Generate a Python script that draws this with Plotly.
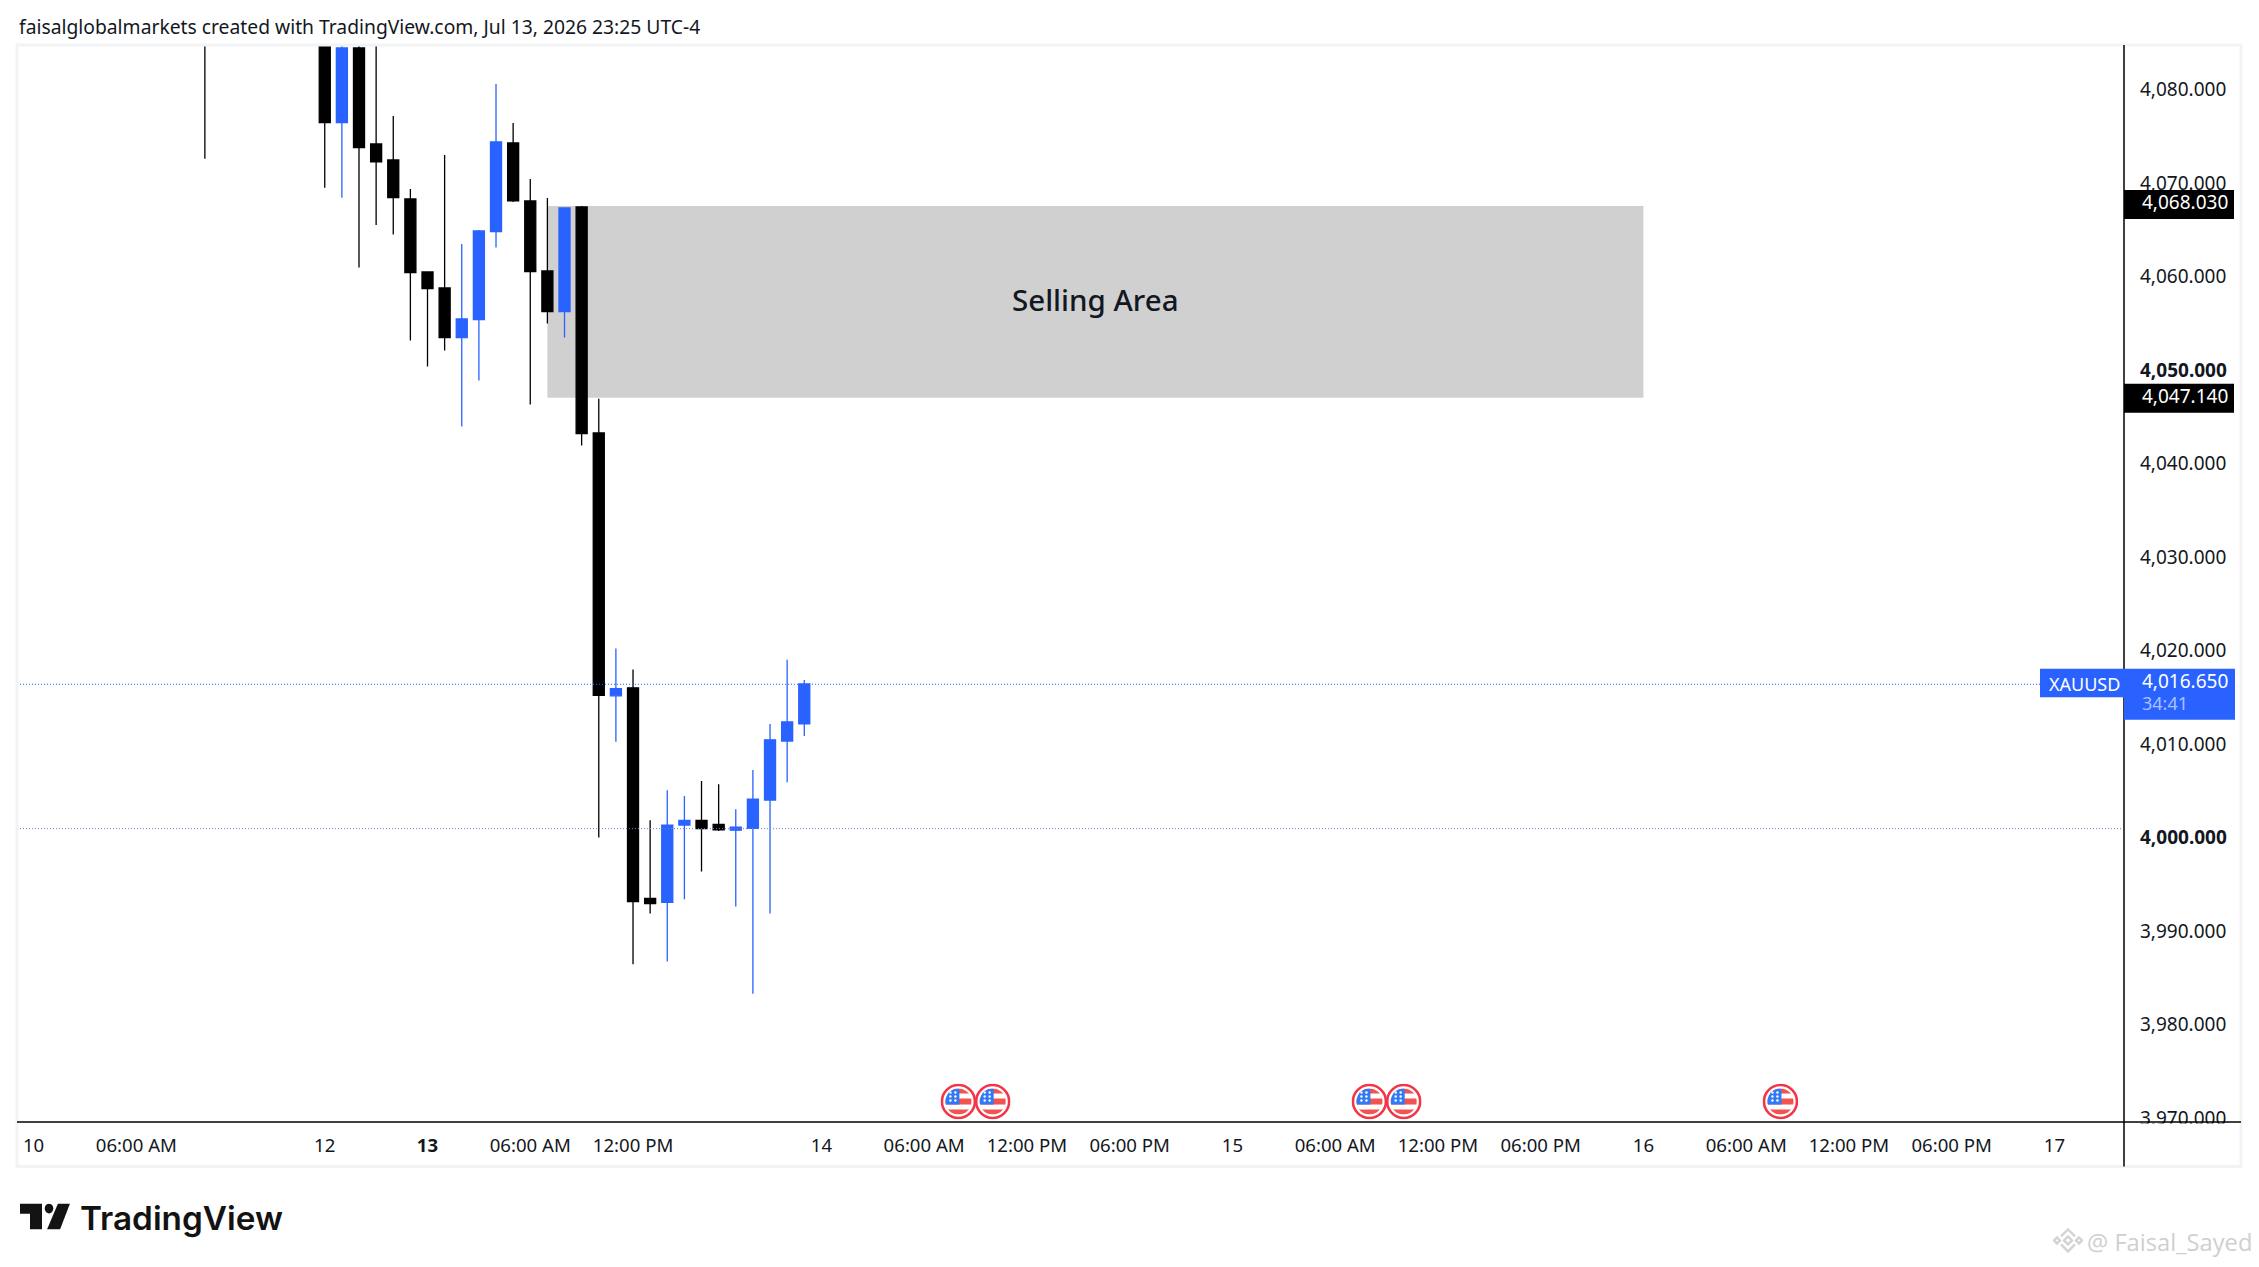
import base64
import plotly.graph_objects as go

bar_index = [-7, 0, 1, 2, 3, 4, 5, 6, 7, 8, 9, 10, 11, 12, 13, 14, 15, 16, 17, 18, 19, 20, 21, 22, 23, 24, 25, 26, 27, 28]
opens = [4087.0, 4085.5, 4076.46, 4084.45, 4074.18, 4072.47, 4068.30, 4060.50, 4058.79, 4053.48, 4055.40, 4064.81, 4074.29, 4068.09, 4060.60,
         4056.26, 4067.45, 4043.28, 4015.16, 4016.01, 3993.48, 3993.06, 4001.33, 4001.84, 4001.41, 4000.78, 4000.99, 4004.00, 4010.32, 4012.15]
highs = [4088.0, 4086.5, 4084.70, 4085.50, 4086.00, 4077.18, 4069.37, 4060.50, 4073.01, 4063.49, 4064.99, 4080.60, 4076.43, 4070.44, 4068.41,
         4067.34, 4067.55, 4046.92, 4020.21, 4017.96, 4001.84, 4005.06, 4004.43, 4006.04, 4005.70, 4003.03, 4007.23, 4012.15, 4019.02, 4016.86]
lows = [4072.61, 4069.51, 4068.44, 4060.96, 4065.52, 4064.49, 4053.16, 4050.38, 4052.09, 4043.96, 4048.88, 4063.10, 4067.98, 4046.31, 4054.97,
        4053.48, 4041.93, 4000.01, 4010.24, 3986.44, 3991.87, 3986.73, 3993.40, 3996.36, 4000.69, 3992.63, 3983.30, 3991.87, 4005.91, 4010.87]
closes = [4086.0, 4076.46, 4084.45, 4073.79, 4072.26, 4068.44, 4060.43, 4058.72, 4053.48, 4055.47, 4064.88, 4074.40, 4068.09, 4060.53, 4056.26,
          4067.34, 4043.21, 4015.20, 4015.92, 3993.14, 3992.93, 4001.33, 4001.84, 4000.95, 4000.82, 4001.12, 4004.09, 4010.45, 4012.36, 4016.43]

time_ticks = [-17, -11, 0, 6, 12, 18, 29, 35, 41, 47, 53, 59, 65, 71, 77, 83, 89, 95, 101]
time_labels = ["10", "06:00 AM", "12", "<b>13</b>", "06:00 AM", "12:00 PM", "14", "06:00 AM", "12:00 PM", "06:00 PM",
               "15", "06:00 AM", "12:00 PM", "06:00 PM", "16", "06:00 AM", "12:00 PM", "06:00 PM", "17"]
price_ticks = [3970, 3980, 3990, 4000, 4010, 4020, 4030, 4040, 4050, 4060, 4070, 4080]
price_labels = ["3,970.000", "3,980.000", "3,990.000", "<b>4,000.000</b>", "4,010.000", "4,020.000", "4,030.000", "4,040.000",
                "<b>4,050.000</b>", "4,060.000", "4,070.000", "4,080.000"]

zone_start, zone_end = 13, 77
zone_top, zone_bottom = 4067.55, 4047.05
last_price = 4016.39
round_level = 4000.95
event_bars = [37, 39, 61, 63, 85]

BLUE = "#2962FF"
W, H = 2259, 1267
LEFT, RIGHT, TOP, BOTTOM = 17, 2124, 45, 1122.5
X_RANGE = [-17.97, 105.06]
BAR_PX = (RIGHT - LEFT) / (X_RANGE[1] - X_RANGE[0])
FONT = "Noto Sans"


# pixel helpers, only for the page furniture round the chart
def px(x):
    return (x - LEFT) / (RIGHT - LEFT)


def py(y):
    return (BOTTOM - y) / (BOTTOM - TOP)


def svg_uri(svg):
    return "data:image/svg+xml;base64," + base64.b64encode(svg.encode()).decode()


flag_svg = svg_uri(
    '<svg xmlns="http://www.w3.org/2000/svg" viewBox="0 0 36 36">'
    '<defs><clipPath id="c"><circle cx="18" cy="18" r="13"/></clipPath></defs>'
    '<circle cx="18" cy="18" r="16.5" fill="#fff" stroke="#F23645" stroke-width="2.6"/>'
    '<g clip-path="url(#c)"><rect width="36" height="36" fill="#fff"/>'
    '<rect y="5" width="36" height="5" fill="#F05350"/>'
    '<rect y="15" width="36" height="6" fill="#F05350"/>'
    '<rect y="26" width="36" height="5" fill="#F05350"/>'
    '<rect x="5" y="5" width="14" height="16" fill="#3179F5"/>'
    '<g fill="#fff"><circle cx="10" cy="9" r="1.2"/><circle cx="15" cy="9" r="1.2"/>'
    '<circle cx="10" cy="13" r="1.2"/><circle cx="15" cy="13" r="1.2"/>'
    '<circle cx="10" cy="17" r="1.2"/><circle cx="15" cy="17" r="1.2"/></g></g></svg>'
)
logo_svg = svg_uri(
    '<svg xmlns="http://www.w3.org/2000/svg" viewBox="0 0 50 23" fill="#131313" preserveAspectRatio="none">'
    '<path d="M0 0H22V23H10V9H0Z"/><circle cx="29" cy="4.5" r="4.3"/><path d="M38 0H50L40 23H27Z"/></svg>'
)
binance_svg = svg_uri(
    '<svg xmlns="http://www.w3.org/2000/svg" viewBox="0 0 30 30" fill="none" stroke="#d4d4d4" stroke-width="2.4">'
    '<path d="M8 11L15 4L22 11"/><path d="M8 19L15 26L22 19"/>'
    '<path d="M15 11L19 15L15 19L11 15Z"/><path d="M1 15L4 12L7 15L4 18Z"/><path d="M23 15L26 12L29 15L26 18Z"/></svg>'
)

fig = go.Figure(go.Candlestick(
    x=bar_index, open=opens, high=highs, low=lows, close=closes,
    increasing=dict(line=dict(color=BLUE, width=1.3), fillcolor=BLUE),
    decreasing=dict(line=dict(color="#000000", width=1.3), fillcolor="#000000"),
    whiskerwidth=0, showlegend=False,
))

shapes = [
    dict(type="rect", xref="x", yref="y", x0=zone_start, x1=zone_end, y0=zone_bottom, y1=zone_top,
         fillcolor="#D0D0D0", line_width=0, layer="below"),
    dict(type="line", xref="paper", yref="y", x0=0, x1=px(2040), y0=last_price, y1=last_price,
         line=dict(color=BLUE, width=1, dash="1px,2px"), layer="above"),
    dict(type="line", xref="paper", yref="y", x0=0, x1=px(2121), y0=round_level, y1=round_level,
         line=dict(color="#6f86b8", width=1, dash="1px,2px"), layer="above"),
    # outer frame
    dict(type="rect", xref="paper", yref="paper", x0=px(17), x1=px(2241), y0=py(1167), y1=py(45),
         line=dict(color="#F2F3F5", width=3), layer="above"),
    # axis lines
    dict(type="line", xref="paper", yref="paper", x0=px(17), x1=px(2241), y0=0, y1=0,
         line=dict(color="#000000", width=1.5), layer="above"),
    dict(type="line", xref="paper", yref="paper", x0=1, x1=1, y0=py(1167), y1=1,
         line=dict(color="#000000", width=1.5), layer="above"),
    # price tags
    dict(type="rect", xref="paper", yref="paper", x0=1, x1=px(2234), y0=py(219), y1=py(190),
         fillcolor="#000000", line_width=0, layer="above"),
    dict(type="rect", xref="paper", yref="paper", x0=1, x1=px(2234), y0=py(413), y1=py(384),
         fillcolor="#000000", line_width=0, layer="above"),
    dict(type="rect", xref="paper", yref="paper", x0=px(2040), x1=1, y0=py(697.5), y1=py(669),
         fillcolor=BLUE, line_width=0, layer="above"),
    dict(type="rect", xref="paper", yref="paper", x0=1, x1=px(2235), y0=py(720), y1=py(669),
         fillcolor=BLUE, line_width=0, layer="above"),
]


def label(x, y, text, size, color="#131722", anchor="left", weight=None, family=FONT):
    return dict(xref="paper", yref="paper", x=px(x), y=py(y), text=text, showarrow=False,
                xanchor=anchor, yanchor="middle", align=anchor,
                font=dict(family=family, size=size, color=color, weight=weight))


annotations = [
    # hides the lower half of the bottom price label, as in the screenshot
    dict(xref="paper", yref="paper", x=px(2127), y=py(1124), xanchor="left", yanchor="top", text=" ",
         width=108, height=10, bgcolor="#FFFFFF", showarrow=False, borderpad=0, font=dict(size=6)),
    label(17, 26, "faisalglobalmarkets created with TradingView.com, Jul 13, 2026 23:25 UTC-4", 19.3),
    dict(xref="x", yref="y", x=(zone_start + zone_end) / 2, y=(zone_top + zone_bottom) / 2, text="Selling Area",
         yshift=2, showarrow=False, font=dict(family=FONT, size=29.5, color="#131722", weight=500)),
    label(2140, 202, "4,068.030", 19, "#FFFFFF"),
    label(2140, 396, "4,047.140", 19, "#FFFFFF"),
    label(2047, 684, "XAUUSD", 18, "#FFFFFF"),
    label(2140, 681, "4,016.650", 19, "#FFFFFF"),
    label(2140, 703.5, "34:41", 18, "#A9C1FF"),
    label(78, 1219, "TradingView", 33.3, "#131313", weight=600, family="Inter"),
    label(2085, 1243, "@ Faisal_Sayed", 23.7, "#CFCFCF", family="Open Sans"),
]

images = [dict(source=flag_svg, xref="x", yref="paper", x=b, y=py(1102), sizex=36 / BAR_PX, sizey=36 / (BOTTOM - TOP),
               xanchor="center", yanchor="middle", sizing="stretch", layer="above") for b in event_bars]
images.append(dict(source=logo_svg, xref="paper", yref="paper", x=px(20), y=py(1204), sizex=50 / (RIGHT - LEFT),
                   sizey=26 / (BOTTOM - TOP), xanchor="left", yanchor="top", sizing="stretch", layer="above"))
images.append(dict(source=binance_svg, xref="paper", yref="paper", x=px(2053), y=py(1226), sizex=30 / (RIGHT - LEFT),
                   sizey=30 / (BOTTOM - TOP), xanchor="left", yanchor="top", sizing="stretch", layer="above"))

fig.update_layout(
    width=W, height=H, autosize=False,
    margin=dict(l=LEFT, r=W - RIGHT, t=TOP, b=H - BOTTOM, pad=0),
    paper_bgcolor="#FFFFFF", plot_bgcolor="#FFFFFF",
    font=dict(family=FONT, size=18, color="#131722"),
    boxgap=0.08, hovermode=False,
    shapes=shapes, annotations=annotations, images=images,
    xaxis=dict(range=X_RANGE, tickmode="array", tickvals=time_ticks, ticktext=time_labels, tickangle=0,
               showgrid=False, zeroline=False, showline=False, ticks="", rangeslider_visible=False,
               tickfont=dict(size=18.6), ticklabelstandoff=10),
    yaxis=dict(range=[3969.57, 4084.77], side="right", tickmode="array", tickvals=price_ticks, ticktext=price_labels,
               showgrid=False, zeroline=False, showline=False, ticks="",
               tickfont=dict(size=19), ticklabelstandoff=15),
)

fig.write_html("out.html", config=dict(displayModeBar=False),
               post_script="document.body.style.margin='0';document.body.style.overflow='hidden';")
